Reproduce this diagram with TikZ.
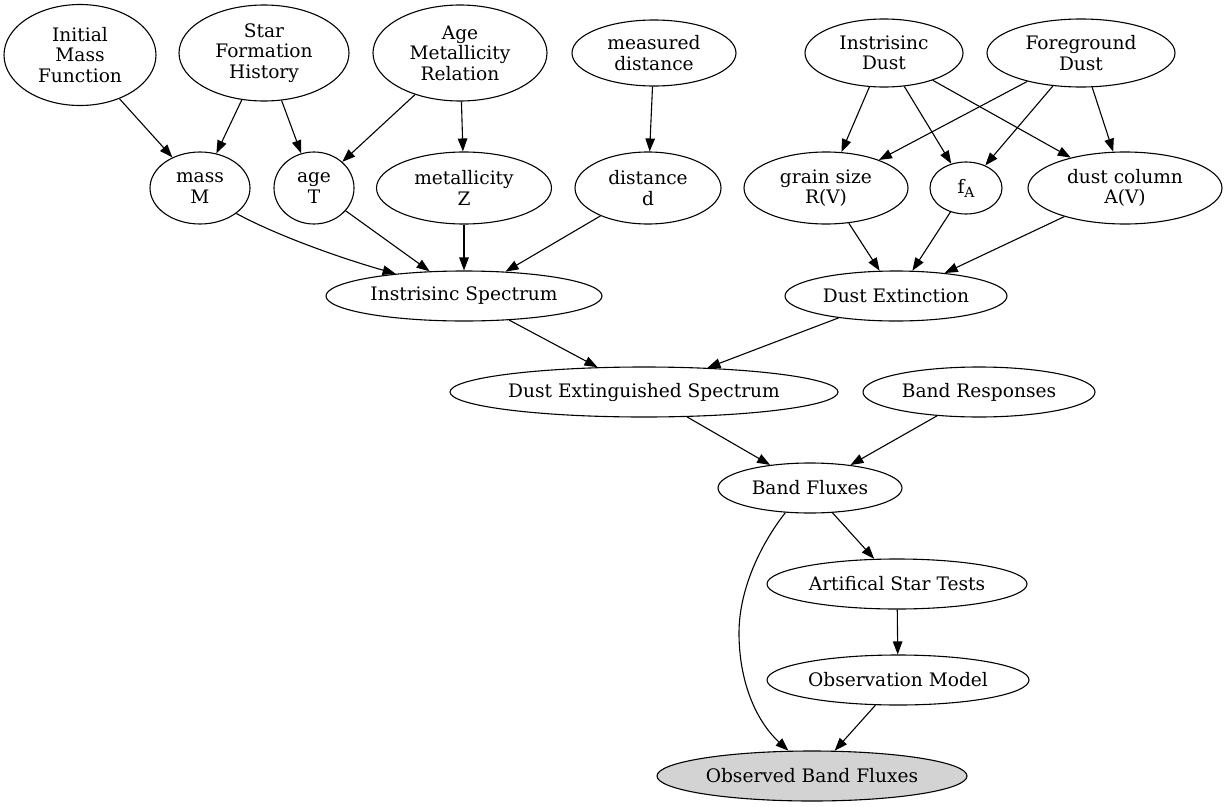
\documentclass[tikz,border=0pt]{standalone}
\usepackage{fontspec}
\setmainfont{DejaVu Serif}
\usetikzlibrary{shapes.geometric,arrows.meta}
\begin{document}
\begin{tikzpicture}[x=1pt,y=-1pt,
  nd/.style={ellipse,draw,line width=1.1pt,inner sep=0pt,align=center,
    font=\fontsize{18.6}{20.5}\selectfont},
  edge/.style={draw,line width=1.1pt,-{Triangle[length=13pt,width=9.5pt]}}]
\useasboundingbox (0,0) rectangle (1229,806);
\node[nd,minimum width=152,minimum height=101] (imf) at (80,55) {Initial\\Mass\\Function};
\node[nd,minimum width=170,minimum height=96] (sfh) at (264,53) {Star\\Formation\\History};
\node[nd,minimum width=174,minimum height=96] (amr) at (460,53) {Age\\Metallicity\\Relation};
\node[nd,minimum width=164,minimum height=66] (mdist) at (654,53) {measured\\distance};
\node[nd,minimum width=158,minimum height=68] (idust) at (884,53) {Instrisinc\\Dust};
\node[nd,minimum width=188,minimum height=68] (fdust) at (1081,53) {Foreground\\Dust};
\node[nd,minimum width=100,minimum height=72] (mass) at (200,188) {mass\\M};
\node[nd,minimum width=80,minimum height=72] (age) at (314,188) {age\\T};
\node[nd,minimum width=175,minimum height=72] (met) at (464,188) {metallicity\\Z};
\node[nd,minimum width=146,minimum height=72] (dist) at (648,188) {distance\\d};
\node[nd,minimum width=164,minimum height=72] (grain) at (826,188) {grain size\\R(V)};
\node[nd,minimum width=72,minimum height=52] (fa) at (966,188) {f\raisebox{-4pt}{\fontsize{14}{14}\selectfont A}};
\node[nd,minimum width=194,minimum height=72] (dcol) at (1125,188) {dust column\\A(V)};
\node[nd,minimum width=276,minimum height=50] (is) at (464,296) {Instrisinc Spectrum};
\node[nd,minimum width=222,minimum height=50] (de) at (896,296) {Dust Extinction};
\node[nd,minimum width=388,minimum height=50] (des) at (644,392) {Dust Extinguished Spectrum};
\node[nd,minimum width=232,minimum height=50] (br) at (979,392) {Band Responses};
\node[nd,minimum width=184,minimum height=50] (bf) at (810,488) {Band Fluxes};
\node[nd,minimum width=260,minimum height=50] (ast) at (897,584) {Artifical Star Tests};
\node[nd,minimum width=262,minimum height=50] (om) at (898,680) {Observation Model};
\node[nd,minimum width=310,minimum height=50,fill={rgb,255:red,211;green,211;blue,211}] (obf) at (812,776) {Observed Band Fluxes};

\path[edge] (imf) -- (mass);
\path[edge] (sfh) -- (mass);
\path[edge] (sfh) -- (age);
\path[edge] (amr) -- (age);
\path[edge] (amr) -- (met);
\path[edge] (mdist) -- (dist);
\path[edge] (idust) -- (grain);
\path[edge] (idust) -- (fa);
\path[edge] (idust) -- (dcol);
\path[edge] (fdust) -- (grain);
\path[edge] (fdust) -- (fa);
\path[edge] (fdust) -- (dcol);
\path[edge] (mass.-35) .. controls (270,232) and (330,255) .. (is.162);
\path[edge] (age) -- (is);
\path[edge] (met) -- (is);
\path[edge] (dist) -- (is);
\path[edge] (grain) -- (de);
\path[edge] (fa) -- (de);
\path[edge] (dcol) -- (de);
\path[edge] (is) -- (des);
\path[edge] (de) -- (des);
\path[edge] (des) -- (bf);
\path[edge] (br) -- (bf);
\path[edge] (bf) -- (ast);
\path[edge] (ast) -- (om);
\path[edge] (om) -- (obf);
\path[edge] (bf.-135) .. controls (760,545) and (739,590) .. (739,633) .. controls (739,680) and (755,720) .. (obf.133);
\end{tikzpicture}
\end{document}
